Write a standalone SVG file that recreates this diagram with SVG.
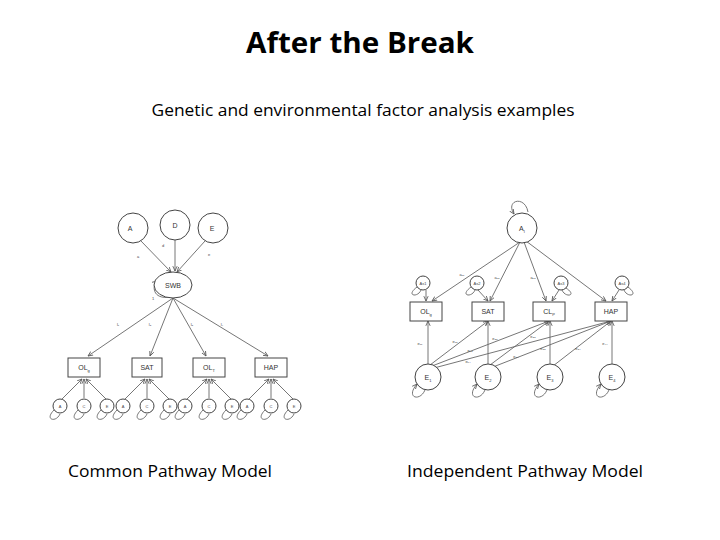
<svg xmlns="http://www.w3.org/2000/svg" width="720" height="540" viewBox="0 0 720 540">
<defs>
<marker id="ah" viewBox="0 0 10 10" refX="9" refY="5" markerWidth="6" markerHeight="6" orient="auto-start-reverse"><path d="M0,1 L9,5 L0,9" fill="none" stroke="#555" stroke-width="1.5"/></marker>
<style>
.n{fill:#fff;stroke:#444;stroke-width:1}
.e{fill:none;stroke:#666;stroke-width:0.9}
.l{font-family:"Liberation Sans",Arial,sans-serif;font-size:7px;fill:#333;text-anchor:middle}
.s{font-family:"Liberation Sans",Arial,sans-serif;font-size:4px;fill:#444;text-anchor:middle}
.c{font-family:"Open Sans","Liberation Sans",sans-serif;fill:#000;text-anchor:middle}
</style>
</defs>
<rect width="720" height="540" fill="#fff"/>
<text class="c" x="360" y="53" font-size="28" font-weight="bold" textLength="228" lengthAdjust="spacingAndGlyphs">After the Break</text>
<text class="c" x="363" y="116" font-size="16.5" textLength="423" lengthAdjust="spacingAndGlyphs">Genetic and environmental factor analysis examples</text>
<text class="c" x="170" y="477" font-size="17" textLength="204" lengthAdjust="spacingAndGlyphs">Common Pathway Model</text>
<text class="c" x="525" y="477" font-size="17" textLength="236" lengthAdjust="spacingAndGlyphs">Independent Pathway Model</text>

<g id="connectors">
<line class="e" x1="141" y1="241" x2="171" y2="272" marker-end="url(#ah)"/>
<line class="e" x1="175" y1="240" x2="175" y2="271" marker-end="url(#ah)"/>
<line class="e" x1="205" y1="241" x2="177" y2="272" marker-end="url(#ah)"/>
<path class="e" d="M170,297 C152,300 152,285 157,281" marker-end="url(#ah)"/>
<line class="e" x1="173" y1="298" x2="88" y2="356" marker-end="url(#ah)"/>
<line class="e" x1="173" y1="298" x2="150" y2="356" marker-end="url(#ah)"/>
<line class="e" x1="173" y1="298" x2="206" y2="356" marker-end="url(#ah)"/>
<line class="e" x1="173" y1="298" x2="268" y2="356" marker-end="url(#ah)"/>
<text class="s" x="138" y="258">a</text><text class="s" x="163" y="247">d</text><text class="s" x="209" y="256">e</text><text class="s" x="153" y="300">1</text>
<text class="s" x="118" y="326">l₁</text><text class="s" x="150" y="326">l₂</text><text class="s" x="192" y="326">l₃</text><text class="s" x="222" y="326">l₄</text>
<path class="e" d="M514,214 C505,200 525,195 528,212" marker-start="url(#ah)"/>
<line class="e" x1="520" y1="242" x2="432" y2="301" marker-end="url(#ah)"/>
<line class="e" x1="520" y1="242" x2="490" y2="301" marker-end="url(#ah)"/>
<line class="e" x1="524" y1="242" x2="546" y2="301" marker-end="url(#ah)"/>
<line class="e" x1="526" y1="241" x2="606" y2="301" marker-end="url(#ah)"/>
<line class="e" x1="426" y1="290" x2="426" y2="301" marker-end="url(#ah)"/>
<line class="e" x1="478" y1="290" x2="488" y2="301" marker-end="url(#ah)"/>
<line class="e" x1="559" y1="290" x2="552" y2="301" marker-end="url(#ah)"/>
<line class="e" x1="619" y1="290" x2="612" y2="301" marker-end="url(#ah)"/>
<line class="e" x1="428" y1="364" x2="428" y2="321" marker-end="url(#ah)"/>
<line class="e" x1="430" y1="365" x2="488" y2="321" marker-end="url(#ah)"/>
<line class="e" x1="432" y1="366" x2="549" y2="321" marker-end="url(#ah)"/>
<line class="e" x1="434" y1="368" x2="611" y2="321" marker-end="url(#ah)"/>
<line class="e" x1="488" y1="364" x2="488" y2="321" marker-end="url(#ah)"/>
<line class="e" x1="490" y1="365" x2="549" y2="321" marker-end="url(#ah)"/>
<line class="e" x1="493" y1="367" x2="611" y2="321" marker-end="url(#ah)"/>
<line class="e" x1="550" y1="364" x2="550" y2="321" marker-end="url(#ah)"/>
<line class="e" x1="553" y1="366" x2="611" y2="321" marker-end="url(#ah)"/>
<line class="e" x1="612" y1="364" x2="612" y2="321" marker-end="url(#ah)"/>
<text class="s" x="462" y="276">a₁₁</text><text class="s" x="497" y="279">a₁₂</text><text class="s" x="533" y="279">a₁₃</text><text class="s" x="566" y="281">a₁₄</text>
<text class="s" x="420" y="345">e₁₁</text><text class="s" x="455" y="343">e₁₂</text><text class="s" x="470" y="352">e₁₃</text><text class="s" x="468" y="363">e₁₄</text>
<text class="s" x="495" y="340">e₂₂</text><text class="s" x="533" y="338">e₂₃</text><text class="s" x="516" y="358">e₂₄</text>
<text class="s" x="543" y="350">e₃₃</text><text class="s" x="578" y="350">e₃₄</text><text class="s" x="605" y="345">e₄₄</text>
</g>

<g id="left-A"><circle class="n" cx="133" cy="228" r="15"/><text class="l" x="130" y="231">A</text></g>
<g id="left-D"><circle class="n" cx="175" cy="225" r="15"/><text class="l" x="175" y="228">D</text></g>
<g id="left-E"><circle class="n" cx="213" cy="228" r="15"/><text class="l" x="212" y="231">E</text></g>
<g id="left-SWB"><ellipse class="n" cx="173" cy="285" rx="19" ry="13"/><text class="l" x="173" y="288">SWB</text></g>
<g id="left-OLg"><rect class="n" x="68" y="358" width="32" height="19"/><text class="l" x="84" y="370">OL<tspan font-size="4" dy="2">g</tspan></text></g>
<g id="left-SAT"><rect class="n" x="132" y="358" width="30" height="19"/><text class="l" x="147" y="370">SAT</text></g>
<g id="left-OLT"><rect class="n" x="193" y="358" width="32" height="19"/><text class="l" x="209" y="370">OL<tspan font-size="4" dy="2">T</tspan></text></g>
<g id="left-HAP"><rect class="n" x="255" y="358" width="32" height="19"/><text class="l" x="271" y="370">HAP</text></g>

<g id="left-residuals">
<g id="lr1">
<line class="e" x1="62" y1="399" x2="82" y2="379" marker-end="url(#ah)"/><line class="e" x1="84" y1="398" x2="84" y2="379" marker-end="url(#ah)"/><line class="e" x1="106" y1="399" x2="86" y2="379" marker-end="url(#ah)"/>
<circle class="n" cx="60" cy="406" r="7"/><circle class="n" cx="84" cy="406" r="7"/><circle class="n" cx="107" cy="406" r="7"/>
<path class="e" d="M54,410 C44,420 56,423 60,414"/><path class="e" d="M78,410 C68,420 80,423 84,414"/><path class="e" d="M101,410 C91,420 103,423 107,414"/>
<text class="s" x="60" y="408">A</text><text class="s" x="84" y="408">C</text><text class="s" x="107" y="408">E</text>
</g>
<g id="lr2" transform="translate(63,0)">
<line class="e" x1="62" y1="399" x2="82" y2="379" marker-end="url(#ah)"/><line class="e" x1="84" y1="398" x2="84" y2="379" marker-end="url(#ah)"/><line class="e" x1="106" y1="399" x2="86" y2="379" marker-end="url(#ah)"/>
<circle class="n" cx="60" cy="406" r="7"/><circle class="n" cx="84" cy="406" r="7"/><circle class="n" cx="107" cy="406" r="7"/>
<path class="e" d="M54,410 C44,420 56,423 60,414"/><path class="e" d="M78,410 C68,420 80,423 84,414"/><path class="e" d="M101,410 C91,420 103,423 107,414"/>
<text class="s" x="60" y="408">A</text><text class="s" x="84" y="408">C</text><text class="s" x="107" y="408">E</text>
</g>
<g id="lr3" transform="translate(125,0)">
<line class="e" x1="62" y1="399" x2="82" y2="379" marker-end="url(#ah)"/><line class="e" x1="84" y1="398" x2="84" y2="379" marker-end="url(#ah)"/><line class="e" x1="106" y1="399" x2="86" y2="379" marker-end="url(#ah)"/>
<circle class="n" cx="60" cy="406" r="7"/><circle class="n" cx="84" cy="406" r="7"/><circle class="n" cx="107" cy="406" r="7"/>
<path class="e" d="M54,410 C44,420 56,423 60,414"/><path class="e" d="M78,410 C68,420 80,423 84,414"/><path class="e" d="M101,410 C91,420 103,423 107,414"/>
<text class="s" x="60" y="408">A</text><text class="s" x="84" y="408">C</text><text class="s" x="107" y="408">E</text>
</g>
<g id="lr4" transform="translate(187,0)">
<line class="e" x1="62" y1="399" x2="82" y2="379" marker-end="url(#ah)"/><line class="e" x1="84" y1="398" x2="84" y2="379" marker-end="url(#ah)"/><line class="e" x1="106" y1="399" x2="86" y2="379" marker-end="url(#ah)"/>
<circle class="n" cx="60" cy="406" r="7"/><circle class="n" cx="84" cy="406" r="7"/><circle class="n" cx="107" cy="406" r="7"/>
<path class="e" d="M54,410 C44,420 56,423 60,414"/><path class="e" d="M78,410 C68,420 80,423 84,414"/><path class="e" d="M101,410 C91,420 103,423 107,414"/>
<text class="s" x="60" y="408">A</text><text class="s" x="84" y="408">C</text><text class="s" x="107" y="408">E</text>
</g>
</g>

<g id="right-AI"><circle class="n" cx="522" cy="228" r="15"/><text class="l" x="522" y="231">A<tspan font-size="4" dy="2">I</tspan></text></g>
<g id="right-As1"><circle class="n" cx="423" cy="283" r="7"/><path class="e" d="M417,287 C405,296 418,298 421,290"/><text class="s" x="423" y="285">As1</text></g>
<g id="right-As2"><circle class="n" cx="477" cy="283" r="7"/><path class="e" d="M471,287 C459,296 472,298 475,290"/><text class="s" x="477" y="285">As2</text></g>
<g id="right-As3"><circle class="n" cx="561" cy="283" r="7"/><path class="e" d="M566,288 C578,296 565,298 562,290"/><text class="s" x="561" y="285">As3</text></g>
<g id="right-As4"><circle class="n" cx="622" cy="283" r="7"/><path class="e" d="M628,287 C640,296 627,298 624,290"/><text class="s" x="622" y="285">As4</text></g>
<g id="right-OLg"><rect class="n" x="410" y="302" width="32" height="19"/><text class="l" x="426" y="314">OL<tspan font-size="4" dy="2">g</tspan></text></g>
<g id="right-SAT"><rect class="n" x="472" y="302" width="32" height="19"/><text class="l" x="488" y="314">SAT</text></g>
<g id="right-CLP"><rect class="n" x="533" y="302" width="32" height="19"/><text class="l" x="549" y="314">CL<tspan font-size="4" dy="2">P</tspan></text></g>
<g id="right-HAP"><rect class="n" x="595" y="302" width="32" height="19"/><text class="l" x="611" y="314">HAP</text></g>
<g id="right-E1"><circle class="n" cx="428" cy="377" r="13"/><path class="e" d="M417,384 C405,398 420,402 425,390" marker-start="url(#ah)"/><text class="l" x="428" y="380">E<tspan font-size="4" dy="2">1</tspan></text></g>
<g id="right-E2"><circle class="n" cx="488" cy="377" r="13"/><path class="e" d="M477,384 C465,398 480,402 485,390" marker-start="url(#ah)"/><text class="l" x="488" y="380">E<tspan font-size="4" dy="2">2</tspan></text></g>
<g id="right-E3"><circle class="n" cx="550" cy="377" r="13"/><path class="e" d="M539,384 C527,398 542,402 547,390" marker-start="url(#ah)"/><text class="l" x="550" y="380">E<tspan font-size="4" dy="2">3</tspan></text></g>
<g id="right-E4"><circle class="n" cx="612" cy="377" r="13"/><path class="e" d="M601,384 C589,398 604,402 609,390" marker-start="url(#ah)"/><text class="l" x="612" y="380">E<tspan font-size="4" dy="2">4</tspan></text></g>
</svg>
